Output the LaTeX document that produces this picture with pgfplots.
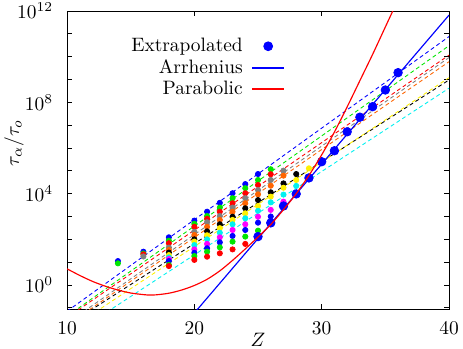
\documentclass[border=0pt]{standalone}
\usepackage{pgfplots}
\pgfplotsset{compat=1.18}

\definecolor{gblue}{RGB}{0,0,255}
\definecolor{ggreen}{RGB}{0,230,0}
\definecolor{gred}{RGB}{255,0,0}
\definecolor{ggray}{RGB}{128,128,128}
\definecolor{gorange}{RGB}{255,100,0}
\definecolor{gyellow}{RGB}{255,240,0}
\definecolor{gcyan}{RGB}{0,240,240}
\definecolor{gmagenta}{RGB}{255,0,255}

\pgfplotsset{
  dot/.style={only marks, mark=*, mark size=1.35pt, color=#1, forget plot},
  fit/.style={color=#1, line width=0.45pt, dash pattern=on 2pt off 1.5pt, forget plot},
}

\begin{document}
\begin{tikzpicture}
\begin{axis}[
    scale only axis, width=196.9pt, height=153.6pt,
    xmin=10, xmax=40, ymode=log, ymin=0.089, ymax=1e12,
    xtick={10,20,30,40},
    ytick={1,1e4,1e8,1e12},
    minor ytick={1e-1,1e1,1e2,1e3,1e5,1e6,1e7,1e9,1e10,1e11},
    major tick length=2.5pt, minor tick length=2.5pt,
    tick style={black, line width=0.4pt},
    every tick label/.append style={inner sep=1pt},
    yticklabel style={xshift=-6pt},
    xticklabel style={yshift=-5.5pt},
    xlabel={$Z$}, ylabel={$\tau_\alpha/\tau_o$},
    xlabel style={at={(axis description cs:0.5,-0.105)}, anchor=center, inner sep=0pt},
    ylabel style={at={(axis description cs:-0.139,0.557)}, anchor=center, inner sep=0pt},
    axis line style={line width=0.5pt},
    clip mode=individual,
    legend plot pos=right,
    legend cell align=right,
    legend style={draw=none, fill=none, at={(0.574,0.93)}, anchor=north east,
                  inner sep=1pt, row sep=-1.5pt, column sep=3pt},
]
% bounding box matching the reference margins
\path (rel axis cs:-0.1754,-0.134) (rel axis cs:1.0366,1.0369);

% linear fits
\addplot[fit=gblue]   coordinates {(10,0.0708)(40,7.59e10)};
\addplot[fit=ggreen]  coordinates {(10,0.0427)(40,3.02e10)};
\addplot[fit=gred]    coordinates {(10,0.0372)(40,1.17e10)};
\addplot[fit=ggray]   coordinates {(10,0.0214)(40,9.12e9)};
\addplot[fit=gorange] coordinates {(10,0.0174)(40,6.03e9)};
\addplot[fit=black]   coordinates {(10,0.0170)(40,9.55e8)};
\addplot[fit=gyellow] coordinates {(10,0.0098)(40,1.2e9)};
\addplot[fit=gcyan]   coordinates {(10,0.0047)(40,4.17e8)};

% simulation data
\addplot[dot=gblue]    coordinates {(14,11.2)(16,28.8)(18,123)(20,661)(21,1622)(22,3981)(23,1.047e4)(24,2.63e4)(25,7.244e4)};
\addplot[dot=ggreen]   coordinates {(14,8.91)(16,24.0)(18,87.1)(20,479)(21,1047)(22,2455)(23,6310)(24,1.738e4)(25,3.981e4)(26,1.175e5)};
\addplot[dot=gred]     coordinates {(16,21.9)(18,67.6)(20,355)(21,794)(22,1622)(23,3802)(24,1.047e4)(25,2.399e4)(26,7.079e4)};
\addplot[dot=ggray]    coordinates {(16,17.8)(18,43.6)(20,214)(21,562)(22,1047)(23,2455)(24,6310)(25,1.445e4)(26,3.981e4)(27,1.023e5)};
\addplot[dot=gorange]  coordinates {(18,33.9)(20,155)(21,355)(22,708)(23,1622)(24,3802)(25,9333)(26,2.239e4)(27,6.166e4)};
\addplot[dot=black]    coordinates {(18,26.3)(20,100)(21,224)(22,457)(23,977)(24,2291)(25,5248)(26,1.148e4)(27,2.818e4)(28,7.244e4)};
\addplot[dot=gyellow]  coordinates {(18,20.4)(20,79.4)(21,151)(22,309)(23,708)(24,1380)(25,2884)(26,7413)(27,1.82e4)(28,3.981e4)(29,1.288e5)};
\addplot[dot=gcyan]    coordinates {(18,16.2)(20,56.2)(21,100)(22,195)(23,457)(24,832)(25,1778)(26,4169)(27,9120)(28,2.188e4)};
\addplot[dot=gmagenta] coordinates {(18,13.8)(20,36.3)(21,63.1)(22,123)(23,257)(24,457)(25,977)(26,1950)(27,4467)};
\addplot[dot=gblue]    coordinates {(18,11.2)(20,25.7)(21,40.7)(22,74.1)(23,141)(24,257)(25,537)(26,1000)};
\addplot[dot=ggreen]   coordinates {(18,7.59)(20,18.6)(21,28.8)(22,44.7)(23,79.4)(24,132)(25,240)};
\addplot[dot=gred]     coordinates {(18,6.76)(20,12.6)(21,17.4)(22,24.5)(23,36.3)(24,63.1)(25,126)};

% extrapolated values
\addplot[only marks, mark=*, mark size=2.2pt, color=gblue,
  legend image code/.code={\fill[gblue] (0.275cm,0cm) circle (2.3pt);}]
  coordinates {(25,132)(26,525)(27,2884)(28,9772)(29,4.898e4)(30,2.512e5)(31,7.586e5)(32,5.129e6)(33,2.239e7)(34,6.457e7)(35,3.467e8)(36,1.995e9)};
\addlegendentry{Extrapolated}

\addplot[draw=gblue, line width=0.6pt,
  legend image code/.code={\fill[gblue] (0cm,-0.2pt) rectangle (0.55cm,0.2pt);}]
  coordinates {(20,0.0594)(40,6.6e11)};
\addlegendentry{Arrhenius}

\addplot[draw=gred, line width=0.6pt, smooth,
  legend image code/.code={\fill[gred] (0cm,-0.2pt) rectangle (0.55cm,0.2pt);}] coordinates {
  (10,5.13)(11,2.63)(12,1.445)(13,0.891)(14,0.603)(15,0.447)(16,0.380)(16.5,0.363)
  (17,0.372)(18,0.437)(19,0.603)(20,0.955)(21,1.778)(22,4.17)(23,12.0)(24,38.0)
  (25,126)(26,447)(27,1995)(28,1e4)(29,6.31e4)(30,5.01e5)(31,5.01e6)(32,6.31e7)
  (33,8.91e8)(34,1.26e10)(35,2.0e11)(36,3.16e12)};
\addlegendentry{Parabolic}
\end{axis}
\end{tikzpicture}
\end{document}
